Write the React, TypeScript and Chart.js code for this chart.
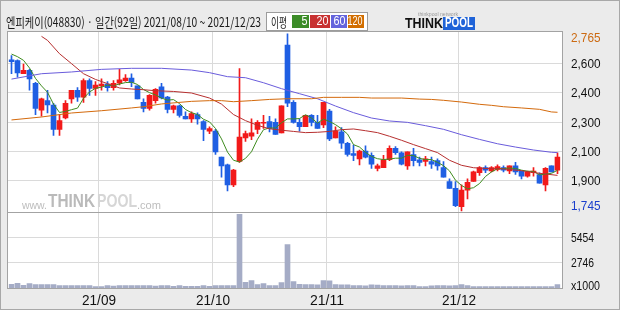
import React, { useEffect, useRef } from 'react';
import { Chart, registerables } from 'chart.js';

Chart.register(...registerables);

// ---------- data ----------
const dates = [
  '08/10','08/11','08/12','08/13','08/17','08/18','08/19','08/20','08/23','08/24','08/25','08/26','08/27','08/30','08/31',
  '09/01','09/02','09/03','09/06','09/07','09/08','09/09','09/10','09/13','09/14','09/15','09/16','09/17','09/23','09/24','09/27','09/28','09/29','09/30',
  '10/01','10/05','10/06','10/07','10/08','10/12','10/13','10/14','10/15','10/18','10/19','10/20','10/21','10/22','10/25','10/26','10/27','10/28','10/29',
  '11/01','11/02','11/03','11/04','11/05','11/08','11/09','11/10','11/11','11/12','11/15','11/16','11/17','11/18','11/19','11/22','11/23','11/24','11/25','11/26','11/29','11/30',
  '12/01','12/02','12/03','12/06','12/07','12/08','12/09','12/10','12/13','12/14','12/15','12/16','12/17','12/20','12/21','12/22','12/23',
];

const opens = [
  2615,2610,2535,2555,2480,2325,2380,2355,2215,2280,
  2390,2440,2400,2495,2450,2465,2475,2455,2480,2495,
  2510,2465,2370,2335,2380,2460,2400,2330,2350,2290,
  2275,2300,2260,2205,2205,2055,2010,1895,2030,2165,
  2175,2215,2250,2260,2255,2195,2700,2370,2255,2230,
  2295,2255,2240,2320,2165,2200,2135,2075,2045,2090,
  2065,1990,1995,2040,2105,2080,2005,2070,2040,2030,
  2030,2035,1995,1915,1875,1770,1865,1915,1965,1995,
  1975,1985,1995,1975,2005,1975,1945,1965,1955,1895,
  2005,1980,
];
const highs = [
  2640,2615,2590,2560,2485,2395,2440,2365,2300,2380,
  2440,2455,2505,2505,2490,2505,2490,2495,2560,2530,
  2535,2465,2390,2415,2450,2480,2405,2355,2355,2315,
  2315,2310,2265,2230,2215,2055,2015,1985,2565,2205,
  2275,2265,2295,2290,2275,2350,2765,2380,2275,2295,
  2300,2295,2370,2330,2230,2225,2140,2125,2095,2120,
  2080,2015,2065,2120,2115,2085,2085,2105,2055,2060,
  2055,2045,2030,1930,1915,1895,1930,1975,2000,2005,
  2000,2010,2005,2005,2025,1975,1975,1995,1965,1995,
  2005,2080,
];
const lows = [
  2535,2515,2535,2440,2300,2290,2310,2180,2180,2275,
  2365,2375,2370,2410,2410,2440,2435,2440,2470,2490,
  2460,2390,2315,2325,2365,2390,2310,2310,2285,2275,
  2255,2245,2150,2190,2070,1940,1860,1885,2025,2145,
  2155,2190,2220,2200,2185,2195,2345,2250,2205,2230,
  2235,2220,2225,2150,2165,2105,2060,2035,2010,2050,
  1990,1975,1995,2035,2070,2010,1985,2005,2005,2005,
  1990,1980,1940,1875,1770,1745,1815,1915,1950,1965,
  1970,1975,1970,1960,1955,1930,1940,1945,1905,1860,
  1970,1960,
];
const closes = [
  2605,2540,2555,2505,2335,2390,2355,2215,2265,2365,
  2440,2400,2495,2450,2470,2475,2455,2480,2500,2510,
  2485,2390,2335,2410,2445,2395,2330,2350,2295,2275,
  2305,2275,2215,2220,2085,2005,1895,1980,2170,2190,
  2195,2255,2255,2220,2185,2350,2365,2255,2230,2295,
  2255,2220,2370,2160,2205,2135,2070,2065,2090,2055,
  2015,2005,2040,2105,2080,2015,2085,2035,2025,2045,
  2015,2005,1940,1875,1775,1865,1910,1970,1995,1980,
  1995,2000,1980,2005,1970,1945,1970,1975,1905,1990,
  1970,2055,
];
// volume, thousands of shares
const volumes = [
  400,500,290,470,360,360,360,360,250,250,
  250,250,250,250,150,150,250,220,250,250,
  250,250,250,250,220,250,250,180,250,180,
  180,180,250,180,250,250,250,250,7960,615,
  800,360,470,250,250,580,4700,690,400,360,
  360,330,800,780,360,340,330,250,250,240,
  330,320,250,260,250,240,250,250,150,160,
  240,250,250,240,250,360,250,150,140,150,
  150,150,140,150,150,150,140,150,150,150,
  150,380,
];

const ma5 = [
  2648,2633,2612,2568,2508,2465,2428,2360,2312,2318,
  2328,2337,2393,2430,2451,2458,2469,2466,2476,2484,
  2486,2473,2444,2426,2413,2395,2383,2386,2363,2329,
  2311,2300,2273,2258,2220,2160,2084,2037,2027,2048,
  2086,2158,2213,2223,2222,2253,2275,2275,2277,2299,
  2280,2251,2274,2260,2242,2218,2188,2127,2113,2083,
  2059,2046,2041,2044,2049,2049,2065,2064,2048,2041,
  2041,2025,2006,1976,1922,1892,1873,1879,1903,1944,
  1970,1988,1990,1992,1990,1980,1974,1973,1953,1957,
  1962,1979,
];
const ma20Idx = [5,6,8,10,12,14,16,18,20,22,24,27,30,33,35,37,39,41,43,45,47,49,51,53,55,57,59,61,63,65,67,69,71,73,75,77,79,82,85,88,91];
const ma20Val = [2750,2727,2650,2593,2535,2502,2478,2453,2447,2443,2437,2433,2424,2395,2360,2300,2265,2238,2218,2210,2203,2196,2198,2203,2213,2217,2207,2196,2175,2152,2127,2104,2081,2037,2008,1994,1990,1987,1977,1962,1950];
const ma60Idx = [0,5,10,15,20,25,30,33,36,39,42,45,48,51,54,57,60,63,66,69,72,75,78,81,84,87,90,91];
const ma60Val = [2504,2535,2545,2560,2566,2566,2556,2541,2518,2512,2483,2449,2420,2391,2349,2311,2280,2263,2255,2236,2215,2184,2157,2132,2113,2096,2083,2081];
const ma120Idx = [0,5,10,15,20,22,25,30,33,35,37,40,43,46,50,52,55,58,60,65,68,70,72,75,78,80,82,85,88,90,91];
const ma120Val = [2269,2286,2309,2322,2338,2345,2361,2376,2380,2380,2374,2380,2387,2391,2391,2399,2399,2399,2395,2395,2389,2387,2382,2372,2359,2353,2345,2338,2330,2315,2313];

const priceTickValues = [2595, 2425, 2255, 2085, 1920];
const priceTickLabels = ['2,600', '2,400', '2,300', '2,100', '1,900'];
const priceHigh = 2765;
const priceLow = 1745;
const priceHighLabel = '2,765';
const priceLowLabel = '1,745';
const volTickValues = [5454, 2746];
const volTickLabels = ['5454', '2746'];
const volUnitLabel = 'x1000';
const monthPrefixes = ['09/', '10/', '11/', '12/'];
const monthLabels = ['21/09', '21/10', '21/11', '21/12'];

const titleText = '엔피케이(048830) · 일간(92일) 2021/08/10 ~ 2021/12/23';
const legendTitle = '이평';
const maPeriods = ['5', '20', '60', '120'];

// ---------- styles ----------
const UP = '#f21a1a';
const DOWN = '#1f5fe3';
const C_MA5 = '#3f8c1f';
const C_MA20 = '#b73030';
const C_MA60 = '#6a5cdc';
const C_MA120 = '#d46a0c';
const C_VOL = '#a5acc6';
const GRID = '#dadada';
const FRAME = '#a3a3a3';

function fitText(
  ctx: CanvasRenderingContext2D, text: string, x: number, y: number, w: number,
  font: string, color: string, align: 'left' | 'center' | 'right' = 'left'
) {
  ctx.save();
  ctx.font = font;
  ctx.fillStyle = color;
  ctx.textBaseline = 'middle';
  ctx.textAlign = 'left';
  const m = ctx.measureText(text).width || 1;
  const s = w / m;
  const x0 = align === 'left' ? x : align === 'center' ? x - w / 2 : x - w;
  ctx.translate(x0, y);
  ctx.scale(s, 1);
  ctx.fillText(text, 0, 0);
  ctx.restore();
}

const LAB_FONT = '13px "Liberation Sans", Arial, sans-serif';

const panelPlugin = {
  id: 'panel',
  beforeDraw(chart: any) {
    const { ctx, scales } = chart;
    const xs = scales.x, ys = scales.y, yv = scales.yv;
    ctx.save();
    // outer background and border
    ctx.fillStyle = '#ebebeb';
    ctx.fillRect(0, 0, 620, 310);
    ctx.strokeStyle = '#a8a8a8';
    ctx.lineWidth = 1;
    ctx.strokeRect(0.5, 0.5, 619, 309);
    // plot area
    ctx.fillStyle = '#ffffff';
    ctx.fillRect(8, 32, 554, 256);
    // grid lines
    ctx.strokeStyle = GRID;
    ctx.beginPath();
    priceTickValues.forEach((v) => {
      const y = Math.floor(ys.getPixelForValue(v)) + 0.5;
      ctx.moveTo(8, y); ctx.lineTo(562, y);
    });
    volTickValues.forEach((v) => {
      const y = Math.floor(yv.getPixelForValue(v)) + 0.5;
      ctx.moveTo(8, y); ctx.lineTo(562, y);
    });
    monthPrefixes.forEach((p) => {
      const i = dates.findIndex((d) => d.startsWith(p));
      const x = Math.floor((xs.getPixelForValue(i - 1) + xs.getPixelForValue(i)) / 2) + 0.5;
      ctx.moveTo(x, 32); ctx.lineTo(x, 288);
    });
    ctx.stroke();
    // watermark
    fitText(ctx, 'www.', 22, 205.5, 25, '11px "Liberation Sans", Arial, sans-serif', '#bdbdbd');
    fitText(ctx, 'THINK', 48, 202, 47, 'bold 18px "Liberation Sans", Arial, sans-serif', '#bababa');
    fitText(ctx, 'POOL', 97, 202, 40, 'bold 18px "Liberation Sans", Arial, sans-serif', '#d6d6d6');
    fitText(ctx, '.com', 137, 205.5, 24, '11px "Liberation Sans", Arial, sans-serif', '#bdbdbd');
    ctx.restore();
  },
  afterDatasetsDraw(chart: any) {
    const { ctx } = chart;
    ctx.save();
    ctx.strokeStyle = FRAME;
    ctx.lineWidth = 1;
    ctx.strokeRect(7.5, 31.5, 555, 257);
    ctx.beginPath();
    ctx.moveTo(8, 212.5); ctx.lineTo(562, 212.5);
    ctx.stroke();
    ctx.restore();
  },
  afterDraw(chart: any) {
    const { ctx, scales } = chart;
    const xs = scales.x, ys = scales.y, yv = scales.yv;
    // header title
    fitText(ctx, titleText, 6, 22, 255, '13px "Noto Sans CJK KR", sans-serif', '#1b1b1b');
    // MA legend box
    ctx.save();
    ctx.fillStyle = '#ffffff';
    ctx.fillRect(266, 12, 102, 19);
    ctx.strokeStyle = '#9c9c9c';
    ctx.strokeRect(266.5, 12.5, 101, 18);
    ctx.restore();
    fitText(ctx, legendTitle, 271, 22, 16, '13px "Noto Sans CJK KR", sans-serif', '#1b1b1b');
    const boxes = [
      { x: 292, w: 17, c: '#3c8c28' },
      { x: 310, w: 20, c: '#c83232' },
      { x: 331, w: 16, c: '#6464dc' },
      { x: 348, w: 16, c: '#d26e00' },
    ];
    const numW = [6, 12, 12, 15];
    boxes.forEach((b, k) => {
      ctx.fillStyle = b.c;
      ctx.fillRect(b.x, 15, b.w, 13);
      fitText(ctx, maPeriods[k], b.x + b.w - 1.5, 22, numW[k], '12px "Liberation Sans", Arial, sans-serif', '#ffffff', 'right');
    });
    // THINKPOOL logo
    fitText(ctx, 'THINK', 405, 23.5, 38, 'bold 15px "Liberation Sans", Arial, sans-serif', '#111111');
    ctx.fillStyle = '#1f63d8';
    ctx.fillRect(443, 17, 32, 13);
    fitText(ctx, 'POOL', 445, 23.5, 28, 'bold 14px "Liberation Sans", Arial, sans-serif', '#ffffff');
    fitText(ctx, 'thinkpool network', 418, 14.5, 40, '5px "Liberation Sans", Arial, sans-serif', '#9a9a9a');

    // right axis labels
    fitText(ctx, priceHighLabel, 571, ys.getPixelForValue(priceHigh) + 4.6, 29.5, LAB_FONT, '#cc6a12');
    priceTickValues.forEach((v, k) => {
      const y = Math.floor(ys.getPixelForValue(v)) + 1.3;
      fitText(ctx, priceTickLabels[k], 571, y, 29.5, LAB_FONT, '#111111');
    });
    fitText(ctx, priceLowLabel, 571, ys.getPixelForValue(priceLow) - 4.4, 29.5, LAB_FONT, '#1a3fcc');
    volTickValues.forEach((v, k) => {
      const y = Math.floor(yv.getPixelForValue(v)) + 1.2;
      fitText(ctx, volTickLabels[k], 571, y, 23, LAB_FONT, '#111111');
    });
    fitText(ctx, volUnitLabel, 571, yv.getPixelForValue(0) - 1.3, 29, LAB_FONT, '#111111');
    // month labels
    monthPrefixes.forEach((p, k) => {
      const i = dates.findIndex((d) => d.startsWith(p));
      const x = (xs.getPixelForValue(i - 1) + xs.getPixelForValue(i)) / 2 + 0.5;
      fitText(ctx, monthLabels[k], x, 301, 34, '14px "Liberation Sans", Arial, sans-serif', '#111111', 'center');
    });
  },
};

export default function App() {
  const ref = useRef<HTMLCanvasElement | null>(null);
  useEffect(() => {
    document.body.style.margin = '0';
    const canvas = ref.current;
    if (!canvas) return;
    const candleColors = dates.map((_, i) => (closes[i] >= opens[i] ? UP : DOWN));
    const sparse = (idx: number[], val: number[]) => idx.map((i, k) => ({ x: dates[i], y: val[k] }));
    const lineBase = { type: 'line' as const, borderWidth: 1, pointRadius: 0, tension: 0, fill: false, spanGaps: true, yAxisID: 'y', order: 0 };
    const chart = new Chart(canvas, {
      type: 'bar',
      data: {
        labels: dates,
        datasets: [
          { ...lineBase, label: 'MA120', data: sparse(ma120Idx, ma120Val) as any, borderColor: C_MA120 },
          { ...lineBase, label: 'MA60', data: sparse(ma60Idx, ma60Val) as any, borderColor: C_MA60 },
          { ...lineBase, label: 'MA20', data: sparse(ma20Idx, ma20Val) as any, borderColor: C_MA20 },
          { ...lineBase, label: 'MA5', data: ma5, borderColor: C_MA5 },
          {
            type: 'bar', label: 'body', data: dates.map((_, i) => [opens[i], closes[i]]) as any,
            backgroundColor: candleColors, borderWidth: 0, barThickness: 5, minBarLength: 1,
            grouped: false, yAxisID: 'y', order: 1,
          },
          {
            type: 'bar', label: 'wick', data: dates.map((_, i) => [lows[i], highs[i]]) as any,
            backgroundColor: candleColors, borderWidth: 0, barThickness: 1,
            grouped: false, yAxisID: 'y', order: 2,
          },
          {
            type: 'bar', label: 'volume', data: volumes,
            backgroundColor: C_VOL, borderWidth: 0, barThickness: 5, minBarLength: 1,
            grouped: false, yAxisID: 'yv', order: 3,
          },
        ] as any,
      },
      options: {
        animation: false,
        responsive: false,
        devicePixelRatio: 1,
        events: [],
        layout: { padding: { left: 8.5, right: 59.5, top: 32, bottom: 22 } },
        scales: {
          x: { type: 'category', display: false, offset: true },
          y: { type: 'linear', display: false, min: 1302, max: 2775 },
          yv: { type: 'linear', display: false, min: 0, max: 27650 },
        },
        plugins: { legend: { display: false }, tooltip: { enabled: false } },
      },
      plugins: [panelPlugin],
    });
    return () => chart.destroy();
  }, []);
  return <canvas ref={ref} width={620} height={310} style={{ display: 'block', width: 620, height: 310 }} />;
}
